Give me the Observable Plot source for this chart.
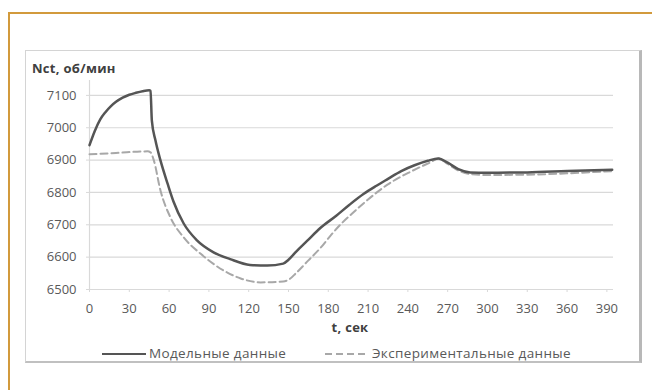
<!DOCTYPE html>
<html>
<head>
<meta charset="utf-8">
<script src="https://cdn.jsdelivr.net/npm/d3@7"></script>
<script src="https://cdn.jsdelivr.net/npm/@observablehq/plot@0.6"></script>
<style>
  html, body { margin: 0; padding: 0; background: #fff; width: 652px; height: 390px; overflow: hidden; }
  #frame { position: absolute; left: 8px; top: 12px; width: 700px; height: 420px; border-top: 2px solid #d29a3c; border-left: 2px solid #d29a3c; }
  #box { position: absolute; left: 25px; top: 50px; width: 613px; height: 310px; border: 1px solid #d4d4d4; border-right: 3px solid #b8b8b8; border-bottom: 2px solid #c0c0c0; background: #fff; }
  .txt { position: absolute; font-family: "Open Sans", sans-serif; color: #595959; white-space: nowrap; }
  #ytitle { left: 32px; top: 59px; font-size: 13px; font-weight: bold; color: #404040; letter-spacing: 0.3px; }
  #xtitle { left: 350px; top: 318px; font-size: 13px; font-weight: bold; color: #404040; transform: translateX(-50%); letter-spacing: 0.3px; }
  #chart { position: absolute; left: 25px; top: 75px; }
  .leg { top: 344px; font-size: 13.5px; letter-spacing: 0.35px; }
</style>
</head>
<body>
<div id="frame"></div>
<div id="box"></div>
<div id="chart"></div>
<div id="ytitle" class="txt">Nct, об/мин</div>
<div id="xtitle" class="txt">t, сек</div>
<div id="legend"></div>
<script>
// ---- data ----
const modelT = [0, 4, 8, 12, 16, 20, 25, 30, 35, 40, 45, 46, 47, 49.7, 53.5, 58.8, 63.3, 71, 81, 93.5, 106, 121, 134, 146, 150, 156, 164, 174, 186, 196, 206.5, 216, 225, 235, 245, 255, 263, 270, 278, 287, 300, 330, 360, 394];
const modelV = [6946, 6990, 7025, 7048, 7066, 7080, 7093, 7102, 7108, 7113, 7116, 7114, 7022, 6961, 6899, 6828, 6772, 6704, 6652, 6615, 6594, 6576, 6574, 6580, 6592, 6618, 6650, 6690, 6728, 6762, 6795, 6820, 6842, 6866, 6884, 6898, 6905, 6892, 6872, 6862, 6861, 6862, 6866, 6870];
const expT = [0, 20, 43.7, 46, 48.5, 53.5, 61, 71, 83.6, 101, 114, 129, 146, 150, 156, 165, 174, 182, 189, 198, 206.5, 215, 224.6, 233, 242, 250, 257, 263, 270, 278, 287, 300, 330, 360, 394];
const expV = [6918, 6922, 6927, 6924, 6899, 6806, 6723, 6661, 6611, 6559, 6534, 6522, 6525, 6530, 6552, 6590, 6628, 6668, 6700, 6735, 6766, 6795, 6824, 6845, 6864, 6880, 6893, 6905, 6888, 6868, 6857, 6854, 6855, 6859, 6866];
const xTicks = [0, 30, 60, 90, 120, 150, 180, 210, 240, 270, 300, 330, 360, 390];
const yTicks = [6500, 6600, 6700, 6800, 6900, 7000, 7100];
const seriesNames = ["Модельные данные", "Экспериментальные данные"];

const model = modelT.map((t, i) => ({t, v: modelV[i]}));
const exp = expT.map((t, i) => ({t, v: expV[i]}));

const plot = Plot.plot({
  width: 616,
  height: 244,
  marginLeft: 64,
  marginRight: 28,
  marginTop: 5,
  marginBottom: 30,
  style: {fontFamily: "'Open Sans', sans-serif", fontSize: "13px", color: "#595959", background: "transparent"},
  x: {domain: [0, 395], label: null},
  y: {domain: [6500, 7146], label: null},
  marks: [
    Plot.gridY(yTicks, {stroke: "#d9d9d9", strokeOpacity: 1, strokeWidth: 1.2}),
    Plot.ruleX([0], {stroke: "#d9d9d9", strokeWidth: 1.2}),
    Plot.axisY(yTicks, {tickSize: 3, tickPadding: 10, stroke: "#d9d9d9", fill: "#595959", tickFormat: d => String(d)}),
    Plot.axisX(xTicks, {tickSize: 3, tickPadding: 11, stroke: "#d9d9d9", fill: "#595959", tickFormat: d => String(d)}),
    Plot.line(exp, {x: "t", y: "v", stroke: "#a8a8a8", strokeWidth: 2, strokeDasharray: "7,4", curve: "monotone-x"}),
    Plot.line(model, {x: "t", y: "v", stroke: "#555555", strokeWidth: 2.5, curve: "monotone-x"})
  ]
});
document.getElementById("chart").appendChild(plot);

// legend
const legend = document.getElementById("legend");
const items = [
  {name: seriesNames[0], x: 102, color: "#555555", dash: null, w: 2.2},
  {name: seriesNames[1], x: 325, color: "#a8a8a8", dash: "7,4", w: 2}
];
items.forEach(it => {
  const s = document.createElementNS("http://www.w3.org/2000/svg", "svg");
  s.setAttribute("width", 44); s.setAttribute("height", 6);
  s.style.position = "absolute"; s.style.left = it.x + "px"; s.style.top = "351px";
  const l = document.createElementNS("http://www.w3.org/2000/svg", "line");
  l.setAttribute("x1", 0); l.setAttribute("x2", 44); l.setAttribute("y1", 3); l.setAttribute("y2", 3);
  l.setAttribute("stroke", it.color); l.setAttribute("stroke-width", it.w);
  if (it.dash) l.setAttribute("stroke-dasharray", it.dash);
  s.appendChild(l);
  document.body.appendChild(s);
  const d = document.createElement("div");
  d.className = "txt leg"; d.style.left = (it.x + 47) + "px";
  d.textContent = it.name;
  legend.appendChild(d);
});
</script>
</body>
</html>
